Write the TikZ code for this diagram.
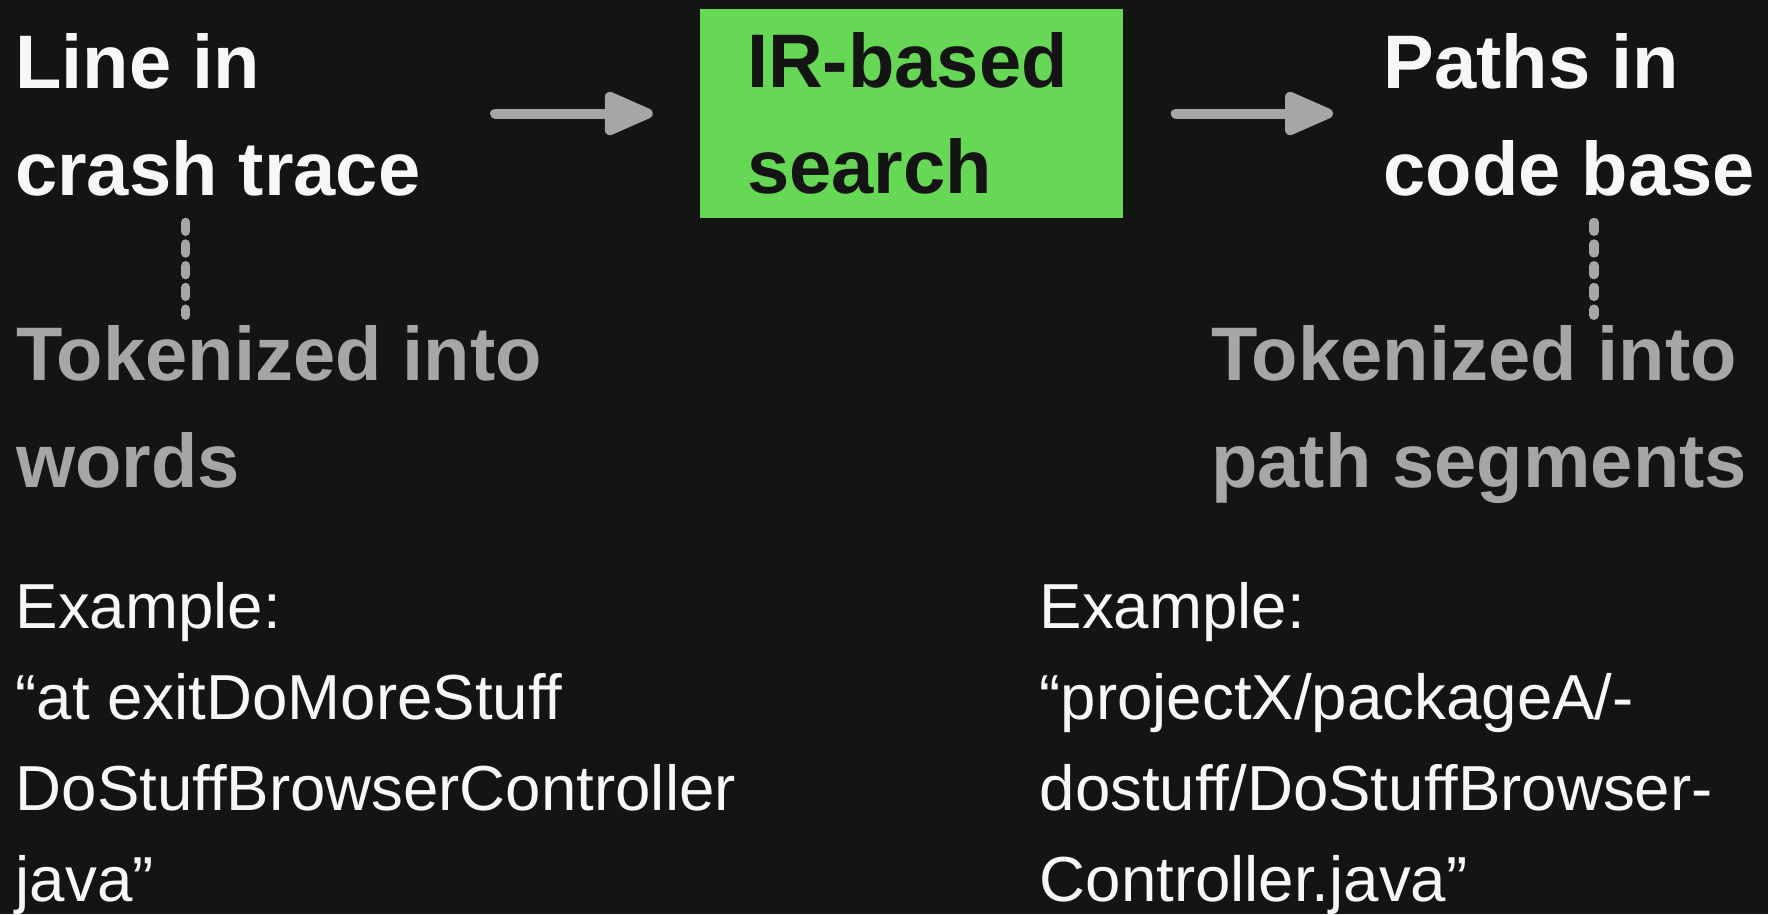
\documentclass[tikz,border=0pt]{standalone}
\usepackage{fontspec}
\setmainfont{Liberation Sans}
\usetikzlibrary{positioning}
\usetikzlibrary{arrows.meta}

\definecolor{backdrop}{HTML}{141414}
\definecolor{chalk}{HTML}{F7F7F7}
\definecolor{ash}{HTML}{A6A6A6}
\definecolor{leaf}{HTML}{67D856}

\begin{document}
\begin{tikzpicture}[inner sep=0pt, anchor=base west,
  heading/.style = {align=left, text=chalk, font=\fontsize{21.6}{30.2}\selectfont\bfseries},
  tokens/.style = {align=left, text=ash, font=\fontsize{21.6}{30.2}\selectfont\bfseries},
  sample/.style = {align=left, text=chalk, font=\fontsize{18.1}{25.9}\selectfont},
  flow/.style = {draw=ash, line width=2.85pt, line cap=round, -{Triangle[length=16pt, width=13pt, round]}},
  split/.style = {draw=ash, line width=2.65pt, line cap=round, dash pattern=on 0.09cm off 0.127cm}]
  \fill[backdrop] (0,0) rectangle (17.68,-9.14);
  \useasboundingbox (0,0) rectangle (17.68,-9.14);

  % base anchor sits on the last line
  \node[heading] (trace) at (0.145,-1.95) {Line in\\crash trace};
  \node[heading] (paths) at (13.83,-1.95) {Paths in\\code base};
  \node[fill=leaf, anchor=center, text width=3.29cm, inner xsep=0.47cm, minimum height=2.09cm,
        align=left, text=backdrop, font=\fontsize{21.6}{30.2}\selectfont\bfseries]
        (search) at (9.115,-1.135) {IR-based\\search};

  \node[tokens] (words) at (0.155,-4.87) {Tokenized into\\words};
  \node[tokens] (segments) at (12.105,-4.87) {Tokenized into\\path segments};

  \node[sample] (lineex) at (0.15,-9.017) {Example:\\“at exitDoMoreStuff\\DoStuffBrowserController\\java”};
  \node[sample] (pathex) at (10.39,-9.017) {Example:\\“projectX/packageA/-\\dostuff/DoStuffBrowser-\\Controller.java”};

  \coordinate (ltop) at (1.857,-2.223);
  \coordinate (lbot) at (1.857,-3.153);
  \coordinate (rtop) at (15.94,-2.223);
  \coordinate (rbot) at (15.94,-3.153);

  \path
  (search.west -| trace.east) edge [flow, shorten <=0.74cm, shorten >=0.465cm] (search.west)
  (search.east) edge [flow, shorten <=0.52cm, shorten >=0.50cm] (search.east -| paths.west)
  (ltop) edge [split] (lbot)
  (rtop) edge [split] (rbot);
\end{tikzpicture}
\end{document}
